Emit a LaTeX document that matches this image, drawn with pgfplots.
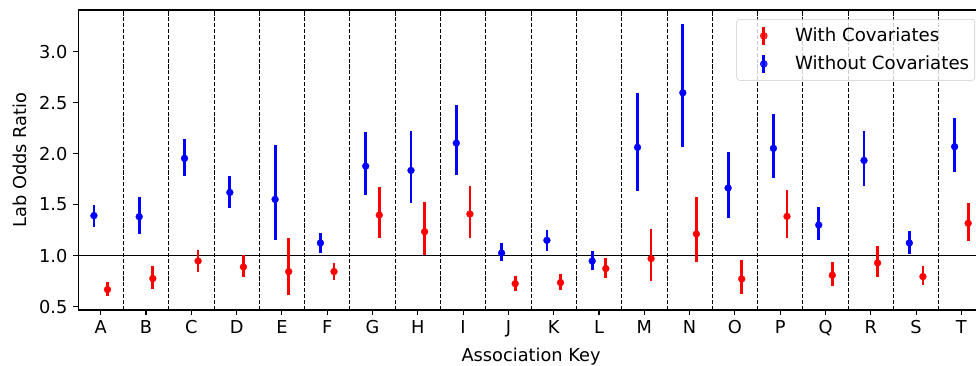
\documentclass[12pt,border=0pt]{standalone}
\usepackage{fontspec}
\setmainfont{DejaVu Sans}
\usepackage{pgfplots}
\usepackage{pgfplotstable}
\pgfplotsset{compat=1.18}

% Without covariates (blue)
\pgfplotstableread{
x y lo hi
0 1.392 1.284 1.500
1 1.382 1.216 1.575
2 1.954 1.780 2.147
3 1.620 1.470 1.784
4 1.552 1.150 2.090
5 1.124 1.030 1.220
6 1.878 1.594 2.215
7 1.836 1.516 2.225
8 2.104 1.787 2.477
9 1.025 0.947 1.124
10 1.150 1.045 1.255
11 0.947 0.859 1.049
12 2.062 1.633 2.594
13 2.598 2.065 3.275
14 1.663 1.369 2.020
15 2.052 1.765 2.392
16 1.300 1.153 1.480
17 1.934 1.682 2.222
18 1.124 1.013 1.241
19 2.069 1.824 2.346
}\withoutcov

% With covariates (red)
\pgfplotstableread{
x y lo hi
0 0.667 0.600 0.738
1 0.775 0.670 0.895
2 0.947 0.843 1.059
3 0.888 0.790 1.003
4 0.843 0.614 1.170
5 0.843 0.765 0.930
6 1.398 1.170 1.676
7 1.235 1.003 1.530
8 1.408 1.170 1.686
9 0.725 0.653 0.797
10 0.735 0.663 0.817
11 0.873 0.780 0.974
12 0.970 0.751 1.258
13 1.212 0.934 1.578
14 0.771 0.620 0.954
15 1.385 1.170 1.640
16 0.807 0.699 0.941
17 0.928 0.790 1.098
18 0.794 0.709 0.895
19 1.317 1.143 1.513
}\withcov

\begin{document}
\begin{tikzpicture}
\begin{axis}[
  name=ax, at={(0,0)}, anchor=south west,
  scale only axis, width=652.3pt, height=216pt,
  xmin=-0.5, xmax=19.5, ymin=0.466, ymax=3.41,
  xtick={0,...,19},
  xticklabels={A,B,C,D,E,F,G,H,I,J,K,L,M,N,O,P,Q,R,S,T},
  ytick={0.5,1.0,1.5,2.0,2.5,3.0},
  yticklabel style={/pgf/number format/.cd, fixed, fixed zerofill, precision=1},
  /pgf/number format/assume math mode=true,
  tick align=outside, tick pos=left, major tick length=3.5pt,
  every tick/.style={black, line width=0.8pt},
  axis line style={line width=0.8pt},
  tick label style={font=\fontsize{12.8}{15}\selectfont},
  label style={font=\fontsize{12.8}{15}\selectfont},
  xlabel={Association Key}, ylabel={Lab Odds Ratio},
  xlabel style={at={(axis description cs:0.5,-0.170)}, anchor=base},
  ylabel style={at={(axis description cs:-0.0573,0.5)}, anchor=base},
  extra x ticks={0.5,1.5,2.5,3.5,4.5,5.5,6.5,7.5,8.5,9.5,10.5,11.5,12.5,13.5,14.5,15.5,16.5,17.5,18.5},
  extra x tick labels={},
  extra x tick style={grid=major, major tick length=0pt,
     major grid style={black, line width=0.6pt, dash pattern=on 2.96pt off 1.28pt}},
  legend style={at={(axis description cs:0.990,0.97)}, anchor=north east,
     draw=black!20, rounded corners=2pt, fill=white, fill opacity=0.8, draw opacity=1, text opacity=1,
     font=\fontsize{13.1}{15}\selectfont, inner xsep=2pt, inner ysep=4pt, row sep=4.5pt,
     cells={anchor=west}},
  legend cell align=left,
]
\addplot[black, line width=1pt, forget plot] coordinates {(-0.5,1) (19.5,1)};

\addlegendimage{legend image code/.code={\path[draw=none,fill=none] (0pt,0pt) -- (38pt,0pt); \draw[red, line width=2pt] (17.5pt,-6.5pt)--(17.5pt,6.5pt); \fill[red] (17.5pt,0pt) circle (2.5pt);}}
\addlegendentry{With Covariates}
\addlegendimage{legend image code/.code={\path[draw=none,fill=none] (0pt,0pt) -- (38pt,0pt); \draw[blue, line width=2pt] (17.5pt,-6.5pt)--(17.5pt,6.5pt); \fill[blue] (17.5pt,0pt) circle (2.5pt);}}
\addlegendentry{Without Covariates}

\addplot[only marks, mark=*, mark size=2.5pt, color=red, mark options={fill=red, draw=red, line width=0.2pt}, forget plot,
  error bars/.cd, y dir=both, y explicit, error mark=none,
  error bar style={line width=2pt, red}]
  table[x expr=\thisrow{x}+0.15, y=y,
        y error plus expr=\thisrow{hi}-\thisrow{y},
        y error minus expr=\thisrow{y}-\thisrow{lo}] {\withcov};

\addplot[only marks, mark=*, mark size=2.5pt, color=blue, mark options={fill=blue, draw=blue, line width=0.2pt}, forget plot,
  error bars/.cd, y dir=both, y explicit, error mark=none,
  error bar style={line width=2pt, blue}]
  table[x expr=\thisrow{x}-0.15, y=y,
        y error plus expr=\thisrow{hi}-\thisrow{y},
        y error minus expr=\thisrow{y}-\thisrow{lo}] {\withoutcov};
\end{axis}
\pgfresetboundingbox
\path (ax.south west) ++(-56.2pt,-40.3pt) rectangle ++(702.7pt,263.5pt);
\end{tikzpicture}
\end{document}
